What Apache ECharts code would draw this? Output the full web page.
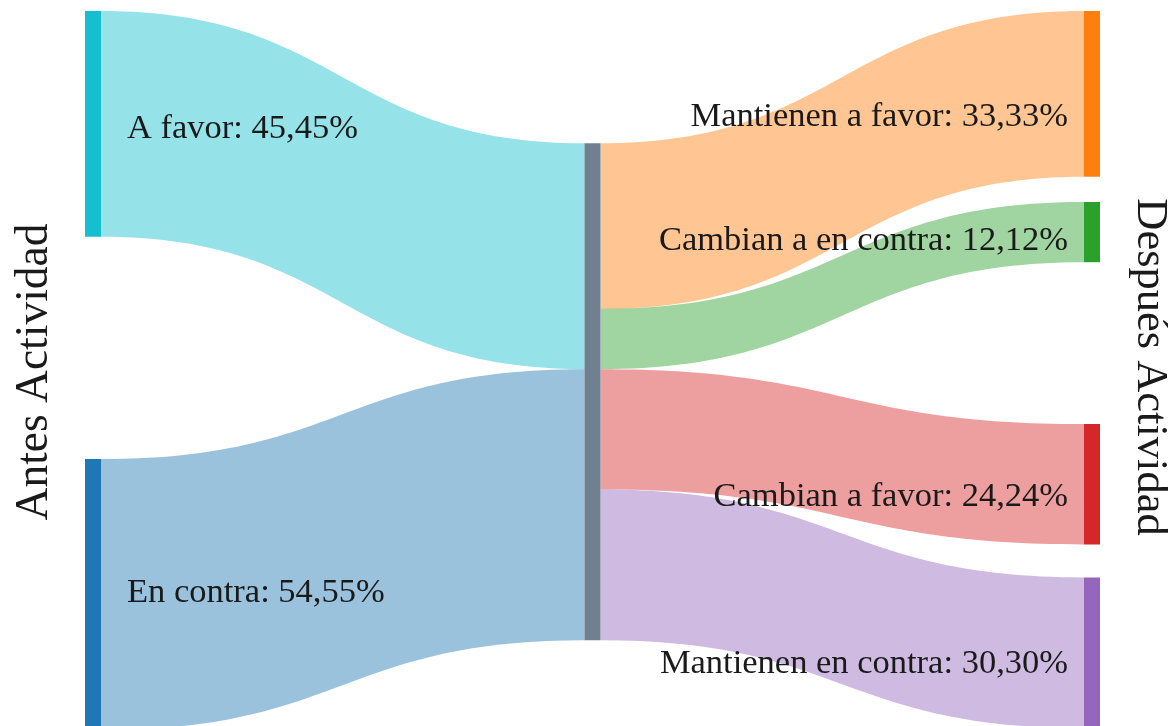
<!DOCTYPE html>
<html>
<head>
<meta charset="utf-8">
<script src="https://cdn.jsdelivr.net/npm/echarts@6/dist/echarts.min.js"></script>
<style>
  html, body { margin: 0; padding: 0; background: #fff; }
  #sankey { width: 1168px; height: 726px; }
</style>
</head>
<body>
<div id="sankey"></div>
<script>
// nodos: antes, centro, después
const nodeNames = [
  "A favor: 45,45%",
  "En contra: 54,55%",
  "Total",
  "Mantienen a favor: 33,33%",
  "Cambian a en contra: 12,12%",
  "Cambian a favor: 24,24%",
  "Mantienen en contra: 30,30%"
];
const nodeColors = ["#17becf", "#1f77b4", "#708090", "#ff7f0e", "#2ca02c", "#d62728", "#9467bd"];

// enlaces (número de alumnos)
const linkSources = [0, 1, 2, 2, 2, 2];
const linkTargets = [2, 2, 3, 4, 5, 6];
const linkValues = [15, 18, 11, 4, 8, 10];

const axisTitles = ["Antes Actividad", "Después Actividad"];

// posición vertical de cada nodo (fracción del alto) y ajuste de la etiqueta
const nodeLocalY = [0, 0.6266, 0.185, 0, 0.2671, 0.5776, 0.7923];
const labelDy = [5.5, -1.5, 0, 23.5, 8.5, 12.5, 11];

var myChart = echarts.init(document.getElementById("sankey"));

const nodes = nodeNames.map(function (name, i) {
  const left = i < 2;
  const mid = i === 2;
  return {
    name: name,
    localY: nodeLocalY[i],
    itemStyle: { color: nodeColors[i] },
    label: {
      show: !mid,
      position: left ? "right" : "left",
      distance: left ? 26 : 16,
      offset: [0, labelDy[i]]
    }
  };
});

const links = linkValues.map(function (v, i) {
  return {
    source: nodeNames[linkSources[i]],
    target: nodeNames[linkTargets[i]],
    value: v,
    lineStyle: { color: nodeColors[linkTargets[i] === 2 ? linkSources[i] : linkTargets[i]], opacity: 0.45 }
  };
});

myChart.setOption({
  animation: false,
  series: [
    {
      type: "sankey",
      left: 85,
      top: 11,
      width: 1015,
      height: 715,
      nodeWidth: 16,
      nodeGap: 72.7,
      layoutIterations: 0,
      draggable: false,
      emphasis: { disabled: true },
      data: nodes,
      links: links,
      itemStyle: { borderWidth: 0 },
      lineStyle: { curveness: 0.5 },
      label: {
        fontFamily: "Liberation Serif",
        fontSize: 34.5,
        color: "#1a1a1a"
      }
    }
  ],
  graphic: [
    {
      type: "text",
      x: 35,
      y: 372,
      rotation: Math.PI / 2,
      style: {
        text: axisTitles[0],
        font: "45.5px 'Liberation Serif'",
        fill: "#1a1a1a",
        textAlign: "center",
        textVerticalAlign: "middle"
      }
    },
    {
      type: "text",
      x: 1150,
      y: 367,
      rotation: -Math.PI / 2,
      style: {
        text: axisTitles[1],
        font: "44.5px 'Liberation Serif'",
        fill: "#1a1a1a",
        textAlign: "center",
        textVerticalAlign: "middle"
      }
    }
  ]
});
</script>
</body>
</html>
